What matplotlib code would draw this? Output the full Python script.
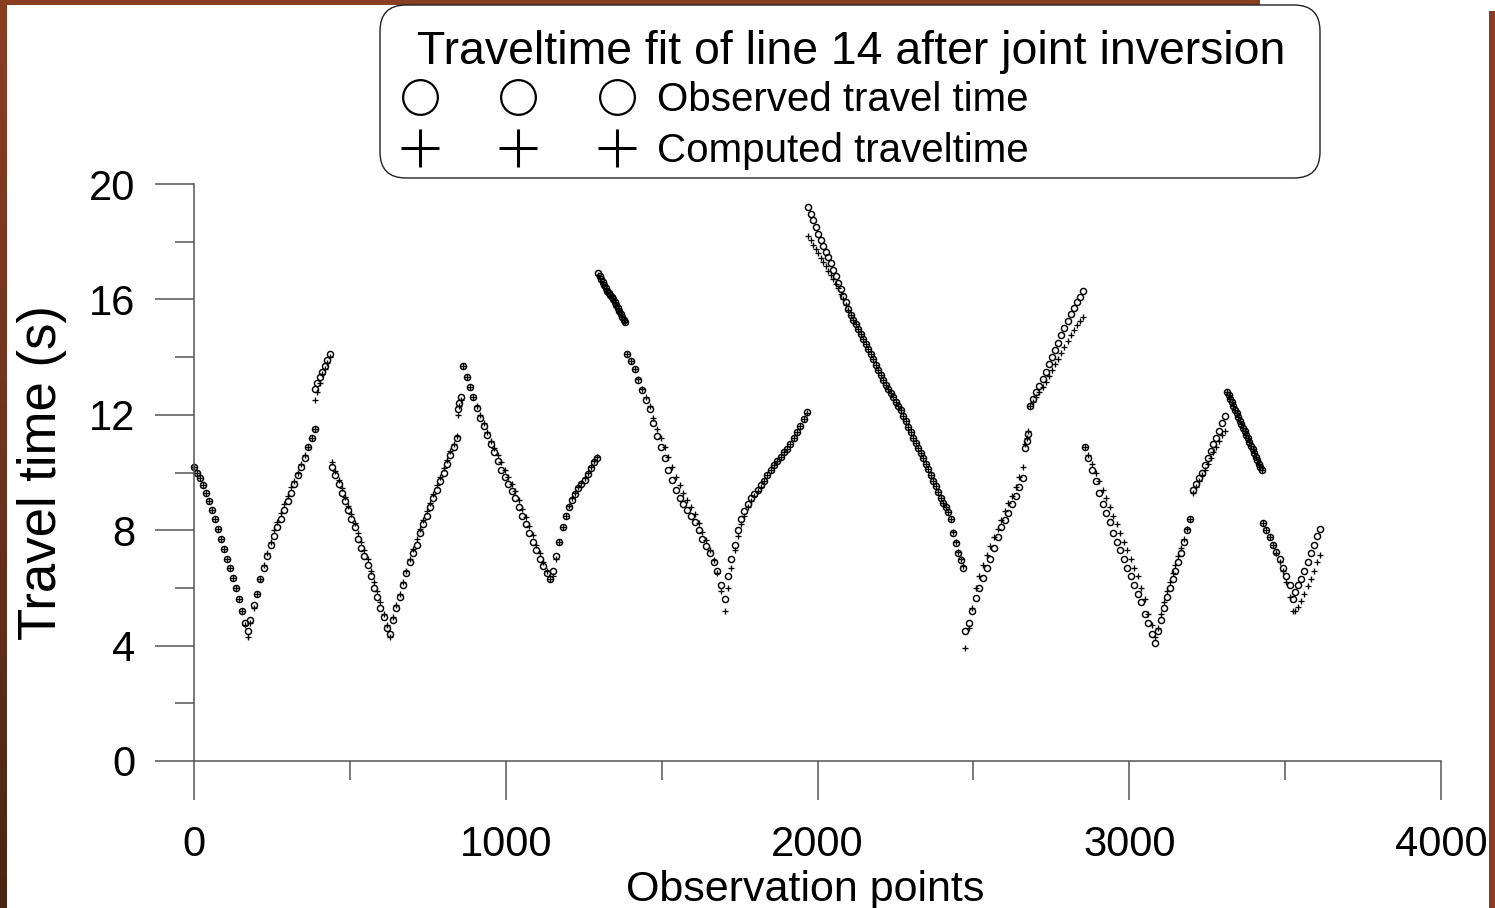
import matplotlib
matplotlib.use("Agg")
import matplotlib.pyplot as plt
from matplotlib.lines import Line2D
from matplotlib.patches import Rectangle, FancyBboxPatch
from matplotlib.colors import LinearSegmentedColormap
from matplotlib.ticker import MultipleLocator
import numpy as np

plt.rcParams['font.family'] = ['Liberation Sans', 'DejaVu Sans']

# first and last observation point of each branch (shot gather segment)
branch_start = [0, 180, 388, 443, 638, 847, 863, 1152, 1296, 1389, 1713,
                1970, 2473, 2666, 2682, 2858, 3092, 3205, 3314, 3429, 3532]
branch_end = [173, 388, 436, 629, 844, 856, 1142, 1293, 1383, 1703, 1966,
              2467, 2659, 2675, 2852, 3083, 3195, 3307, 3426, 3525, 3612]

# observed travel times (s)
observed = [
    [10.2, 10.0, 9.8, 9.55, 9.3, 9.0, 8.7, 8.4, 8.05, 7.7, 7.35, 7.0, 6.7, 6.35, 6.0, 5.6, 5.2, 4.8, 4.5],
    [4.9, 5.4, 5.8, 6.3, 6.7, 7.1, 7.5, 7.8, 8.1, 8.4, 8.7, 9.0, 9.3, 9.6, 9.9, 10.2, 10.5, 10.9, 11.2, 11.5],
    [12.9, 13.1, 13.3, 13.5, 13.7, 13.9, 14.1],
    [10.2, 9.9, 9.6, 9.3, 9.0, 8.7, 8.4, 8.1, 7.7, 7.4, 7.1, 6.8, 6.4, 6.0, 5.7, 5.3, 5.0, 4.6, 4.4],
    [4.9, 5.3, 5.7, 6.1, 6.5, 6.9, 7.2, 7.5, 7.9, 8.2, 8.5, 8.8, 9.1, 9.4, 9.7, 10.0, 10.3, 10.6, 10.9, 11.2],
    [12.2, 12.4, 12.6],
    [13.7, 13.3, 12.95, 12.6, 12.25, 11.9, 11.6, 11.3, 11.0, 10.7, 10.4, 10.1, 9.85, 9.6, 9.35, 9.1,
     8.8, 8.5, 8.2, 7.9, 7.6, 7.3, 7.0, 6.75, 6.5, 6.3],
    [6.6, 7.1, 7.6, 8.1, 8.5, 8.8, 9.05, 9.25, 9.45, 9.6, 9.75, 9.95, 10.15, 10.35, 10.5],
    [16.9, 16.8, 16.7, 16.6, 16.5, 16.4, 16.3, 16.22, 16.15, 16.07, 16.0, 15.9, 15.8, 15.7, 15.6,
     15.5, 15.4, 15.3, 15.2],
    [14.1, 13.85, 13.6, 13.2, 12.85, 12.5, 12.2, 11.7, 11.25, 10.9, 10.5, 10.1, 9.75, 9.4, 9.1, 8.9,
     8.7, 8.5, 8.3, 8.0, 7.7, 7.45, 7.2, 6.9, 6.6, 6.1, 5.6],
    [6.4, 7.0, 7.5, 8.0, 8.4, 8.65, 8.9, 9.1, 9.25, 9.4, 9.55, 9.7, 9.9, 10.1, 10.25, 10.4, 10.55,
     10.7, 10.8, 11.0, 11.2, 11.4, 11.6, 11.85, 12.1],
    [19.2, 18.97, 18.74, 18.51, 18.28, 18.06, 17.86, 17.66, 17.46, 17.26, 17.03, 16.81, 16.58, 16.36,
     16.13, 15.9, 15.68, 15.47, 15.3, 15.13, 14.96, 14.79, 14.62, 14.45, 14.28, 14.1, 13.92, 13.74,
     13.56, 13.38, 13.2, 13.05, 12.9, 12.76, 12.61, 12.46, 12.32, 12.16, 11.97, 11.78, 11.58, 11.39,
     11.2, 11.02, 10.84, 10.66, 10.49, 10.31, 10.12, 9.92, 9.72, 9.52, 9.31, 9.12, 8.96, 8.8, 8.63,
     8.4, 7.9, 7.55, 7.2, 6.95, 6.7],
    [4.5, 4.8, 5.2, 5.65, 6.0, 6.35, 6.7, 7.0, 7.4, 7.75, 8.1, 8.35, 8.6, 8.9, 9.2, 9.5, 9.8],
    [10.85, 11.1, 11.35],
    [12.3, 12.55, 12.8, 13.0, 13.25, 13.5, 13.75, 14.0, 14.25, 14.5, 14.75, 15.0, 15.25, 15.5, 15.7, 15.9, 16.1, 16.3],
    [10.9, 10.5, 10.1, 9.7, 9.3, 8.9, 8.6, 8.3, 7.9, 7.6, 7.3, 7.0, 6.7, 6.4, 6.1, 5.8, 5.5, 5.1, 4.8, 4.4, 4.1],
    [4.5, 4.9, 5.3, 5.7, 6.0, 6.3, 6.6, 6.9, 7.2, 7.6, 8.0, 8.4],
    [9.4, 9.6, 9.8, 10.0, 10.25, 10.5, 10.75, 11.0, 11.2, 11.45, 11.7, 11.95],
    [12.8, 12.68, 12.55, 12.43, 12.3, 12.18, 12.05, 11.93, 11.8, 11.68, 11.55, 11.43, 11.3, 11.18,
     11.05, 10.93, 10.8, 10.68, 10.55, 10.43, 10.3, 10.2, 10.1],
    [8.25, 8.0, 7.75, 7.5, 7.25, 7.0, 6.7, 6.4, 6.1, 5.6],
    [5.85, 6.1, 6.3, 6.6, 6.9, 7.2, 7.5, 7.8, 8.05],
]

# computed travel times (s) after joint inversion
computed = [
    [10.2, 10.0, 9.8, 9.55, 9.3, 9.0, 8.7, 8.4, 8.05, 7.7, 7.35, 7.0, 6.7, 6.35, 6.0, 5.6, 5.2, 4.7, 4.3],
    [4.8, 5.3, 5.8, 6.3, 6.8, 7.2, 7.6, 8.0, 8.3, 8.6, 8.9, 9.2, 9.5, 9.7, 10.0, 10.3, 10.6, 10.9, 11.2, 11.5],
    [12.5, 12.8, 13.1, 13.4, 13.6, 13.8, 14.0],
    [10.35, 10.05, 9.75, 9.45, 9.15, 8.85, 8.55, 8.25, 7.9, 7.6, 7.3, 7.0, 6.6, 6.2, 5.9, 5.5, 5.1, 4.7, 4.3],
    [5.0, 5.4, 5.8, 6.2, 6.6, 7.0, 7.35, 7.7, 8.05, 8.35, 8.65, 8.95, 9.25, 9.55, 9.85, 10.15, 10.45,
     10.75, 11.0, 11.25],
    [12.0, 12.3, 12.5],
    [13.7, 13.3, 12.95, 12.6, 12.3, 12.0, 11.7, 11.4, 11.1, 10.85, 10.6, 10.35, 10.1, 9.85, 9.6, 9.35,
     9.05, 8.75, 8.45, 8.15, 7.85, 7.5, 7.2, 6.9, 6.6, 6.3],
    [6.4, 7.0, 7.6, 8.1, 8.5, 8.85, 9.1, 9.3, 9.5, 9.65, 9.8, 10.0, 10.2, 10.4, 10.55],
    [16.85, 16.75, 16.65, 16.55, 16.45, 16.35, 16.27, 16.2, 16.12, 16.05, 15.97, 15.88, 15.78, 15.68,
     15.58, 15.48, 15.38, 15.28, 15.2],
    [14.1, 13.85, 13.6, 13.25, 12.9, 12.6, 12.3, 11.9, 11.5, 11.2, 10.9, 10.55, 10.2, 9.85, 9.55, 9.3,
     9.05, 8.8, 8.55, 8.25, 7.95, 7.65, 7.3, 6.95, 6.5, 5.9, 5.2],
    [6.0, 6.7, 7.3, 7.8, 8.2, 8.5, 8.8, 9.0, 9.2, 9.35, 9.5, 9.7, 9.9, 10.1, 10.25, 10.4, 10.55, 10.7,
     10.8, 11.0, 11.2, 11.4, 11.6, 11.85, 12.05],
    [18.2, 18.05, 17.9, 17.75, 17.6, 17.45, 17.3, 17.15, 17.0, 16.85, 16.7, 16.55, 16.4, 16.2,
     16.0, 15.8, 15.62, 15.45, 15.3, 15.13, 14.96, 14.79, 14.62, 14.45, 14.28, 14.1, 13.92, 13.74,
     13.56, 13.38, 13.2, 13.05, 12.9, 12.76, 12.61, 12.46, 12.32, 12.16, 11.97, 11.78, 11.58, 11.39,
     11.2, 11.02, 10.84, 10.66, 10.49, 10.31, 10.12, 9.92, 9.72, 9.52, 9.31, 9.12, 8.96, 8.8, 8.63,
     8.4, 7.95, 7.6, 7.25, 7.0, 6.75],
    [3.9, 4.6, 5.3, 6.0, 6.4, 6.8, 7.15, 7.45, 7.75, 8.05, 8.35, 8.65, 8.95, 9.2, 9.5, 9.85, 10.2],
    [11.0, 11.2, 11.45],
    [12.3, 12.45, 12.6, 12.8, 12.95, 13.15, 13.35, 13.55, 13.75, 13.95, 14.15, 14.35, 14.55, 14.75,
     14.95, 15.1, 15.25, 15.4],
    [10.9, 10.6, 10.3, 10.0, 9.7, 9.4, 9.1, 8.8, 8.5, 8.2, 7.9, 7.6, 7.3, 7.0, 6.7, 6.4, 6.0, 5.6, 5.1, 4.7, 4.3],
    [4.6, 5.1, 5.5, 5.9, 6.2, 6.5, 6.8, 7.1, 7.4, 7.7, 8.05, 8.4],
    [9.3, 9.5, 9.7, 9.9, 10.1, 10.3, 10.5, 10.7, 10.9, 11.1, 11.3, 11.45],
    [12.8, 12.68, 12.55, 12.43, 12.3, 12.18, 12.05, 11.93, 11.8, 11.68, 11.55, 11.43, 11.3, 11.18,
     11.05, 10.93, 10.8, 10.68, 10.55, 10.43, 10.3, 10.2, 10.1],
    [8.25, 8.0, 7.75, 7.5, 7.2, 6.9, 6.6, 6.2, 5.7, 5.2],
    [5.2, 5.35, 5.55, 5.8, 6.05, 6.3, 6.6, 6.9, 7.15],
]

legend_title = "Traveltime fit of line 14 after joint inversion"
obs_label = "Observed travel time"
calc_label = "Computed traveltime"

W, H = 1495, 908
fig = plt.figure(figsize=(W / 100, H / 100), dpi=100)
fig.patch.set_facecolor("white")

# slide background edges (brown frame)
brown = "#873e22"
fig.add_artist(Rectangle((0, 1 - 5 / H), 1260 / W, 5 / H, transform=fig.transFigure,
                         color=brown, lw=0, zorder=0))
fig.add_artist(Rectangle((1489 / W, 0), 6 / W, 1 - 11 / H, transform=fig.transFigure,
                         color=brown, lw=0, zorder=0))
strip = fig.add_axes([0, 0, 7 / W, 1])
grad = LinearSegmentedColormap.from_list("edge", ["#4a2414", "#6e331c", "#8a3f22"])
strip.imshow(np.linspace(0, 1, 256).reshape(-1, 1), cmap=grad, aspect="auto", origin="lower")
strip.axis("off")

ax = fig.add_axes([194 / W, 1 - 761 / H, (1441 - 194) / W, (761 - 184) / H])

for xs, xe, ob, cp in zip(branch_start, branch_end, observed, computed):
    xo = np.linspace(xs, xe, len(ob))
    xc = np.linspace(xs, xe, len(cp))
    ax.plot(xo, ob, ls="none", marker="o", ms=4.4, mfc="none", mec="black", mew=1.05, clip_on=False)
    ax.plot(xc, cp, ls="none", marker="+", ms=4.4, mec="black", mew=0.95, clip_on=False)

ax.set_xlim(0, 4000)
ax.set_ylim(0, 20)
ax.xaxis.set_major_locator(MultipleLocator(1000))
ax.xaxis.set_minor_locator(MultipleLocator(500))
ax.yaxis.set_major_locator(MultipleLocator(4))
ax.yaxis.set_minor_locator(MultipleLocator(2))

axis_color = "#555555"
for side in ["top", "right"]:
    ax.spines[side].set_visible(False)
for side in ["left", "bottom"]:
    ax.spines[side].set_color(axis_color)
    ax.spines[side].set_linewidth(1.1)

ax.tick_params(which="major", direction="out", length=28, width=1.1, color=axis_color,
               labelsize=30, labelcolor="black")
ax.tick_params(which="minor", direction="out", length=14, width=1.1, color=axis_color)
ax.tick_params(axis="x", which="major", pad=18)
ax.tick_params(axis="y", which="major", pad=14)

ax.set_xlabel("Observation points", fontsize=31, labelpad=4)
ax.xaxis.label.set_x((805 - 194) / (1441 - 194))
ax.set_ylabel("Travel time (s)", fontsize=38, labelpad=16)

# legend box with title
box = FancyBboxPatch((3.80, (H - 178) / 100), 9.40, 1.73,
                     boxstyle="round,pad=0,rounding_size=0.26",
                     transform=fig.dpi_scale_trans, facecolor="white",
                     edgecolor="#222222", lw=1.0, zorder=5)
fig.add_artist(box)
fig.text(851 / W, 1 - 64 / H, legend_title, ha="center", va="baseline",
         fontsize=33.4, zorder=6)

handles = [
    Line2D([], [], ls="none", marker="o", ms=25, mfc="none", mec="black", mew=1.6),
    Line2D([], [], ls="none", marker="+", ms=27, mec="black", mew=2.2),
]
leg = fig.legend(handles, [obs_label, calc_label], numpoints=3,
                 loc="upper left", bbox_to_anchor=(408 / W, 1 - 81 / H),
                 bbox_transform=fig.transFigure, fontsize=29,
                 handlelength=5.48, handletextpad=0.7, borderpad=0, labelspacing=0.33,
                 borderaxespad=0, frameon=False)
leg.set_zorder(7)

fig.savefig("out.png", dpi=100)
